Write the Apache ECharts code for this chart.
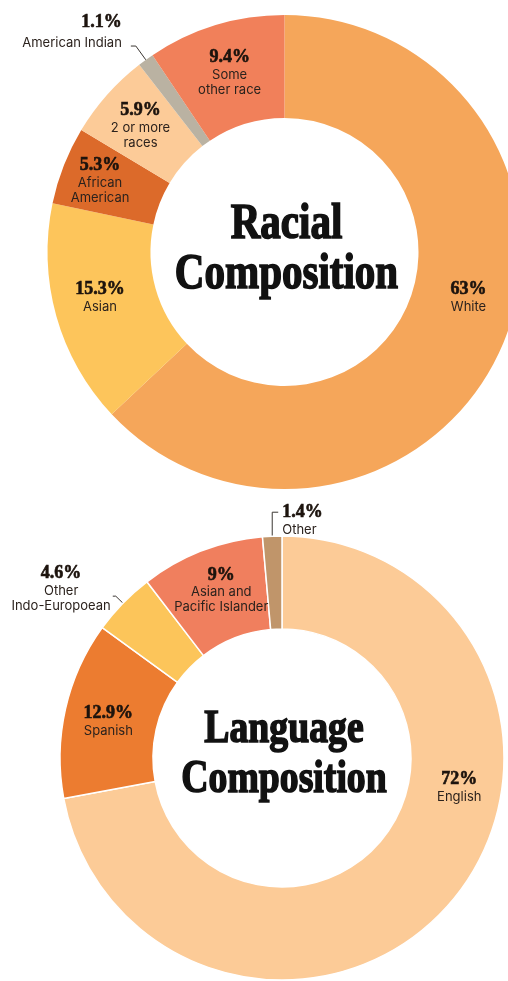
<!DOCTYPE html>
<html lang="en">
<head>
<meta charset="utf-8">
<title>Racial and Language Composition</title>
<script src="https://cdn.jsdelivr.net/npm/echarts@6.0.0/dist/echarts.min.js"></script>
<style>
  html, body { margin: 0; padding: 0; background: #ffffff; }
  #chart { width: 508px; height: 981px; }
</style>
</head>
<body>
<div id="chart"></div>
<script>
// ---------- data ----------
const raceCategories = ['White', 'Asian', 'African American', '2 or more races', 'American Indian', 'Some other race'];
const raceValues = [63, 15.3, 5.3, 5.9, 1.1, 9.4];
const raceLabelText = ['White', 'Asian', 'African\nAmerican', '2 or more\nraces', 'American Indian', 'Some\nother race'];

const languageCategories = ['English', 'Spanish', 'Other Indo-European', 'Asian and Pacific Islander', 'Other'];
const languageValues = [72, 12.9, 4.6, 9, 1.4];
const languageLabelText = ['English', 'Spanish', 'Other\nIndo-Europoean', 'Asian and\nPacific Islander', 'Other'];

const raceTitle = 'Racial\nComposition';
const languageTitle = 'Language\nComposition';

// ---------- styles ----------
const raceColors = ['#F5A65A', '#FDC55B', '#DC6A2A', '#FCCB98', '#BAB2A2', '#F1805A'];
const languageColors = ['#FCCB97', '#EC7C30', '#FCC55A', '#F07F5E', '#C0956A'];

const raceCenter = [284.5, 252];
const raceRadius = [134, 237];
const languageCenter = [282, 758];
const languageRadius = [129, 222];

// label placement per slice: inside labels get a small nudge,
// thin slices get a leader line
const raceLabelPlacement = [
  { offset: [11, -30] },
  { offset: [-3, -6] },
  { offset: [-9, -2.5] },
  { offset: [-3, -1.5] },
  { outside: true, align: 'right', length: 17, length2: 5, distance: 9, padBottom: 32 },
  { offset: [0, 0.5] }
];
const languageLabelPlacement = [
  { offset: [40, -85] },
  { offset: [0.5, 2.3] },
  { outside: true, align: 'center', length: 10, length2: 3, distance: 2, padBottom: 16 },
  { offset: [4, -1.7] },
  { outside: true, elbow: true, align: 'left', length: 24, length2: 6 }
];

const pctFont = {
  fontFamily: '"Liberation Serif"', fontWeight: 'bold', fontSize: 18, lineHeight: 20,
  color: '#1c130d', textBorderColor: '#1c130d', textBorderWidth: 0.6
};
const txtFont = { fontFamily: 'Inter', fontSize: 13, lineHeight: 15, color: '#2b221d' };

const rich = {
  p: Object.assign({ align: 'center' }, pctFont),
  t: Object.assign({ align: 'center' }, txtFont),
  pr: Object.assign({}, pctFont, { align: 'right', lineHeight: 26 }),
  tr: Object.assign({ align: 'right' }, txtFont),
  pl: Object.assign({ align: 'left' }, pctFont),
  tl: Object.assign({ align: 'left' }, txtFont)
};

function labelText(value, text, align) {
  const s = align === 'right' ? 'r' : align === 'left' ? 'l' : '';
  return '{p' + s + '|' + value + '%}\n' +
    text.split('\n').map(function (line) { return '{t' + s + '|' + line + '}'; }).join('\n');
}

function buildItems(categories, values, texts, colors, placement) {
  return categories.map(function (name, i) {
    const pl = placement[i];
    const item = { name: name, value: values[i], itemStyle: { color: colors[i] } };
    const label = { formatter: labelText(values[i], texts[i], pl.align) };
    if (pl.outside) {
      label.position = 'outside';
      label.distanceToLabelLine = pl.distance || 5;
      if (pl.padBottom) label.padding = [0, 0, pl.padBottom, 0];
      item.labelLine = { show: true, length: pl.length, length2: pl.length2 };
    } else {
      label.position = 'inside';
      label.offset = pl.offset;
    }
    item.label = label;
    return item;
  });
}

// leader that rises straight up from the slice and turns right
function elbowLayout(params) {
  const pl = languageLabelPlacement[params.dataIndex];
  if (!pl || !pl.elbow || !params.labelLinePoints) return {};
  const p0 = params.labelLinePoints[0];
  const corner = [p0[0], p0[1] - pl.length];
  const end = [p0[0] + pl.length2, p0[1] - pl.length];
  return {
    x: end[0] + 4,
    y: end[1] - 10,
    align: 'left',
    verticalAlign: 'top',
    labelLinePoints: [p0, corner, end]
  };
}

const baseLabel = { show: true, position: 'inside', rich: rich };
const baseLabelLine = { show: false, smooth: false, lineStyle: { color: '#3b3632', width: 1 } };

function titleText(text, center, size) {
  return {
    type: 'text',
    x: center[0] + 2,
    y: center[1] - 2,
    scaleX: 0.82,
    silent: true,
    style: {
      text: text,
      font: 'bold ' + size + 'px "Liberation Serif"',
      lineHeight: 50,
      fill: '#111111',
      textFill: '#111111',
      stroke: '#111111',
      lineWidth: 1.6,
      align: 'center',
      verticalAlign: 'middle',
      textAlign: 'center',
      textVerticalAlign: 'middle'
    }
  };
}

const chart = echarts.init(document.getElementById('chart'), null, { renderer: 'canvas' });
chart.setOption({
  backgroundColor: '#ffffff',
  animation: false,
  graphic: [
    titleText(raceTitle, raceCenter, 50),
    titleText(languageTitle, [languageCenter[0], languageCenter[1] - 1], 46)
  ],
  series: [
    {
      type: 'pie',
      center: raceCenter,
      radius: raceRadius,
      startAngle: 90,
      clockwise: true,
      avoidLabelOverlap: false,
      silent: true,
      label: baseLabel,
      labelLine: baseLabelLine,
      data: buildItems(raceCategories, raceValues, raceLabelText, raceColors, raceLabelPlacement)
    },
    {
      type: 'pie',
      center: languageCenter,
      radius: languageRadius,
      startAngle: 90,
      clockwise: true,
      avoidLabelOverlap: false,
      silent: true,
      itemStyle: { borderColor: '#ffffff', borderWidth: 1.5 },
      label: baseLabel,
      labelLine: baseLabelLine,
      labelLayout: elbowLayout,
      data: buildItems(languageCategories, languageValues, languageLabelText, languageColors, languageLabelPlacement)
    }
  ]
});
</script>
</body>
</html>
